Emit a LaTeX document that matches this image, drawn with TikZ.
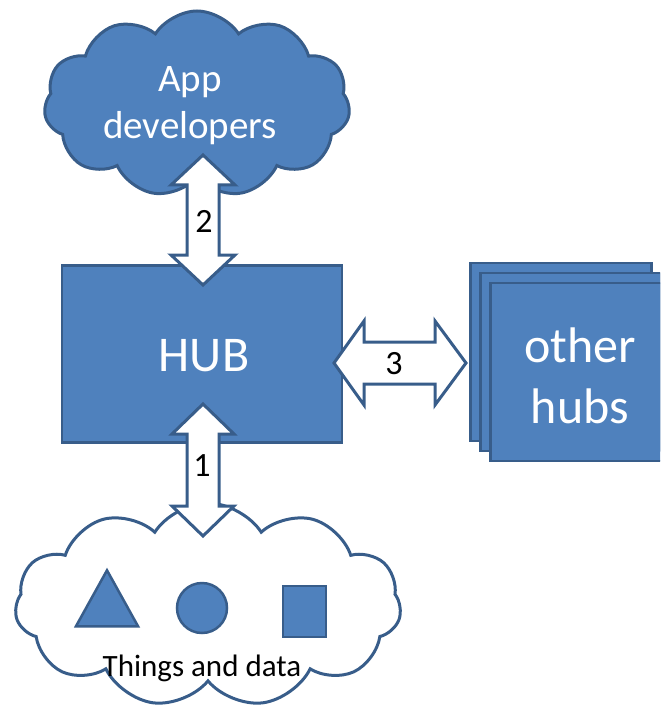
\documentclass[tikz,border=0pt]{standalone}
\usepackage{fontspec}
\setmainfont{Carlito}
\usetikzlibrary{shapes.symbols,shapes.geometric}
\definecolor{boxfill}{HTML}{4F81BD}
\definecolor{boxline}{HTML}{385D8A}
\tikzset{
  bluebox/.style={fill=boxfill,draw=boxline,line width=2.5pt},
  blockarrow/.style={fill=white,draw=boxline,line width=3pt,line join=miter},
  cloudshape/.style={cloud,cloud puffs=11,cloud puff arc=115,draw=boxline,line width=3pt,inner sep=0pt},
  whitetext/.style={text=white,align=center},
  numlabel/.style={font=\fontsize{34}{40}\selectfont,inner sep=0pt}
}
\begin{document}
\begin{tikzpicture}[x=1pt,y=-1pt]
\useasboundingbox (0,0) rectangle (660,708);
\clip (0,0) rectangle (660,708);
% top cloud
\node[cloudshape,fill=boxfill,aspect=1.6,minimum width=306pt,minimum height=186pt] (dev) at (197,104) {};
\node[whitetext,font=\fontsize{39}{47}\selectfont] (devtext) at (190,106) {App\\developers};
% hub
\node[bluebox,minimum width=280pt,minimum height=177pt,inner sep=0pt] (hub) at (202,354) {};
\node[whitetext,font=\fontsize{50}{60}\selectfont,inner sep=0pt] (hubtext) at (204,356) {HUB};
% other hubs
\node[bluebox,minimum width=181pt,minimum height=178pt,inner sep=0pt] (oh1) at (561,352) {};
\node[bluebox,minimum width=181pt,minimum height=178pt,inner sep=0pt] (oh2) at (571,362) {};
\node[bluebox,minimum width=181pt,minimum height=178pt,inner sep=0pt] (oh3) at (581,372) {};
\node[whitetext,font=\fontsize{50}{61}\selectfont,inner sep=0pt] (ohtext) at (580,376) {other\\hubs};
% bottom cloud
\node[cloudshape,fill=white,aspect=1.9,minimum width=386pt,minimum height=204pt] (things) at (208,605) {};
\node[bluebox,isosceles triangle,isosceles triangle apex angle=58,shape border rotate=90,minimum height=56pt,inner sep=0pt] (tri) at (107,608) {};
\node[bluebox,circle,minimum size=50pt,inner sep=0pt] (circ) at (202,608) {};
\node[bluebox,minimum width=43pt,minimum height=51pt,inner sep=0pt] (sq) at (304.5,611.5) {};
\node[font=\fontsize{31}{36}\selectfont,anchor=base,inner sep=0pt] (thingstext) at (202,676) {Things and data};
% arrow 2 (developers <-> hub)
\coordinate (a2) at (203,220);
\draw[blockarrow] ([yshift=-65pt]a2) -- ([xshift=32pt,yshift=-35pt]a2) -- ([xshift=16pt,yshift=-35pt]a2)
  -- ([xshift=16pt,yshift=35pt]a2) -- ([xshift=32pt,yshift=35pt]a2) -- ([yshift=65pt]a2)
  -- ([xshift=-32pt,yshift=35pt]a2) -- ([xshift=-16pt,yshift=35pt]a2) -- ([xshift=-16pt,yshift=-35pt]a2)
  -- ([xshift=-32pt,yshift=-35pt]a2) -- cycle;
\node[numlabel] (l2) at (204,221) {2};
% arrow 1 (things <-> hub)
\coordinate (a1) at (203,470);
\draw[blockarrow] ([yshift=-66pt]a1) -- ([xshift=31pt,yshift=-36pt]a1) -- ([xshift=16pt,yshift=-36pt]a1)
  -- ([xshift=16pt,yshift=36pt]a1) -- ([xshift=31pt,yshift=36pt]a1) -- ([yshift=66pt]a1)
  -- ([xshift=-31pt,yshift=36pt]a1) -- ([xshift=-16pt,yshift=36pt]a1) -- ([xshift=-16pt,yshift=-36pt]a1)
  -- ([xshift=-31pt,yshift=-36pt]a1) -- cycle;
\node[numlabel] (l1) at (202,466) {1};
% arrow 3 (hub <-> other hubs)
\coordinate (a3) at (400,363);
\draw[blockarrow] ([xshift=-66pt]a3) -- ([xshift=-36pt,yshift=-42pt]a3) -- ([xshift=-36pt,yshift=-21pt]a3)
  -- ([xshift=35pt,yshift=-21pt]a3) -- ([xshift=35pt,yshift=-42pt]a3) -- ([xshift=66pt]a3)
  -- ([xshift=35pt,yshift=42pt]a3) -- ([xshift=35pt,yshift=21pt]a3) -- ([xshift=-36pt,yshift=21pt]a3)
  -- ([xshift=-36pt,yshift=42pt]a3) -- cycle;
\node[numlabel] (l3) at (394,364) {3};
\end{tikzpicture}
\end{document}
